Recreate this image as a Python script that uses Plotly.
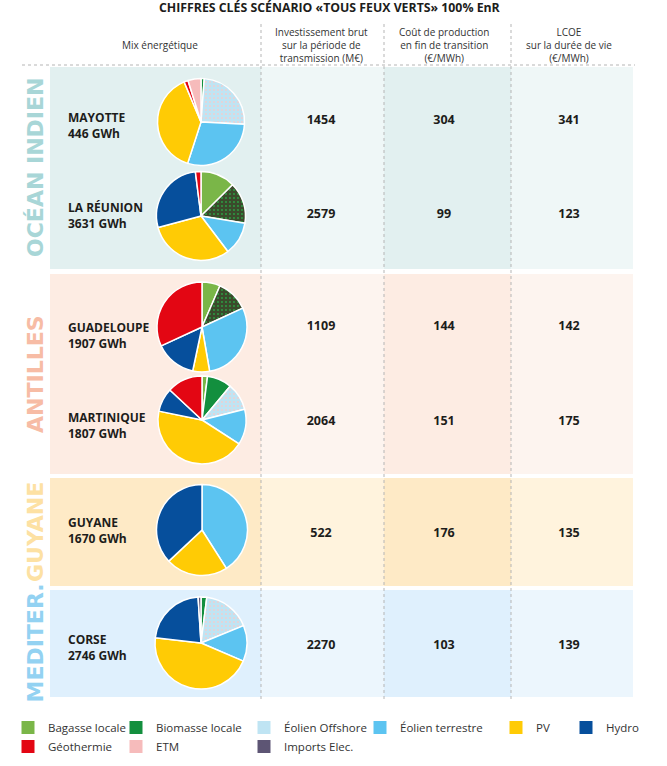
import plotly.graph_objects as go

# ---------------- DATA ----------------
title = "CHIFFRES CLÉS SCÉNARIO «TOUS FEUX VERTS» 100% EnR"
col_headers = ["Mix énergétique",
               "Investissement brut<br>sur la période de<br>transmission (M€)",
               "Coût de production<br>en fin de transition<br>(€/MWh)",
               "LCOE<br>sur la durée de vie<br>(€/MWh)"]

categories = ["Bagasse locale", "Biomasse locale", "Biomasse (motif)", "Éolien Offshore",
              "Éolien terrestre", "PV", "Hydro", "Géothermie", "ETM", "Imports Elec."]

territories = ["MAYOTTE", "LA RÉUNION", "GUADELOUPE", "MARTINIQUE", "GUYANE", "CORSE"]
consumption = ["446 GWh", "3631 GWh", "1907 GWh", "1807 GWh", "1670 GWh", "2746 GWh"]
invest = [1454, 2579, 1109, 2064, 522, 2270]
cout_production = [304, 99, 144, 151, 176, 103]
lcoe = [341, 123, 142, 175, 135, 139]

# energy mix shares (%), in the order of `categories`
mix_mayotte    = [0,   1.2, 0,    24.5, 29,   38.5, 0,    1.5,  4.8, 0]
mix_reunion    = [12.5, 0,  15,   0,    12,   31,   27,   2,    0,   0]
mix_guadeloupe = [6.5, 0,   11.5, 0,    29,   6,    14.7, 31.7, 0,   0]
mix_martinique = [2,   9,   0,    10,   13,   44,   8.7,  13,   0,   0]
mix_guyane     = [0,   0,   0,    0,    41,   22,   37,   0,    0,   0]
mix_corse      = [0,   2,   0,    16.7, 12.5, 45,   22,   0,    0,   1]
mixes = [mix_mayotte, mix_reunion, mix_guadeloupe, mix_martinique, mix_guyane, mix_corse]

regions = ["OCÉAN INDIEN", "ANTILLES", "GUYANE", "MEDITER."]

legend_cols = [["Bagasse locale", "Géothermie"], ["Biomasse locale", "ETM"],
               ["Éolien Offshore", "Imports Elec."], ["Éolien terrestre"], ["PV"], ["Hydro"]]

# ---------------- STYLE / LAYOUT ----------------
W, H = 667, 766
FONT = "Open Sans"
TXT = "#1d1d1b"

cat_colors = {
    "Bagasse locale": "#7ab648",
    "Biomasse locale": "#138f3e",
    "Biomasse (motif)": "#3b4a2c",
    "Éolien Offshore": "#bfe4f3",
    "Éolien terrestre": "#5cc4f1",
    "PV": "#ffcb05",
    "Hydro": "#064f9c",
    "Géothermie": "#e30613",
    "ETM": "#f6bbbb",
    "Imports Elec.": "#5d5574",
}
pattern_shape = {"Biomasse (motif)": ".", "Éolien Offshore": "."}
pattern_fg = {"Biomasse (motif)": "#2aa043", "Éolien Offshore": "#efcfcf"}

region_colors = ["#a8d6d7", "#f7bca5", "#fde1a3", "#93d2f2"]
band_dark = ["#e2f0f0", "#fdece3", "#feeac6", "#dff0fd"]
band_light = ["#eff7f7", "#fdf4ef", "#fff3dd", "#ecf6fd"]
band_y = [(67, 269), (274, 474), (478, 586), (590, 697)]

col_edges = [50, 261, 384, 511, 633]
col_centers = [160, 321, 444, 569]
row_value_y = [121, 215, 327, 422, 534, 646]
row_label_y = [125, 215, 335, 425, 530, 647]
pie_center = [(201, 122), (201, 216), (202, 327), (202, 420), (202, 530), (201, 643)]
pie_r = [43.5, 44.5, 45, 44, 45.5, 46]


def px(x):
    return x / W


def py(y):
    return 1 - y / H


fig = go.Figure()
shapes = []
annotations = []

# band backgrounds
for bi, (y0, y1) in enumerate(band_y):
    for ci in range(4):
        shapes.append(dict(type="rect", xref="x", yref="y", x0=col_edges[ci], x1=col_edges[ci + 1],
                           y0=y0, y1=y1, line=dict(width=0), layer="below",
                           fillcolor=band_dark[bi] if ci in (0, 2) else band_light[bi]))

# dotted separators
for xv in col_edges[1:4]:
    shapes.append(dict(type="line", xref="x", yref="y", x0=xv, x1=xv, y0=24, y1=700,
                       line=dict(color="#b5b5b5", width=1, dash="dot"), layer="below"))
shapes.append(dict(type="line", xref="x", yref="y", x0=22, x1=635, y0=65, y1=65,
                   line=dict(color="#b5b5b5", width=1, dash="dot"), layer="below"))

# title & headers
annotations.append(dict(x=330, y=7, xref="x", yref="y", text=title, showarrow=False,
                        font=dict(family=FONT, size=12.3, color=TXT, weight="bold")))
for ci, h in enumerate(col_headers):
    annotations.append(dict(x=col_centers[ci], y=45, xref="x", yref="y", text=h,
                            showarrow=False, align="center",
                            font=dict(family=FONT, size=10, color="#333333")))

# region vertical labels
for ri, name in enumerate(regions):
    y0, y1 = band_y[ri]
    annotations.append(dict(x=35, y=(y0 + y1) / 2, xref="x", yref="y", text=name, textangle=-90,
                            showarrow=False,
                            font=dict(family="DejaVu Sans", size=22, color=region_colors[ri],
                                      weight="bold")))

# territory labels
for ti, t in enumerate(territories):
    annotations.append(dict(x=66, y=row_label_y[ti], xref="x", yref="y", xanchor="left",
                            text=f"{t}<br>{consumption[ti]}", showarrow=False, align="left",
                            font=dict(family=FONT, size=12, color=TXT, weight="bold")))

# numeric cells via scatter text
for ci, vals in enumerate([invest, cout_production, lcoe]):
    fig.add_trace(go.Scatter(x=[col_centers[ci + 1]] * len(vals), y=row_value_y, mode="text",
                             text=[str(v) for v in vals], textposition="middle center",
                             textfont=dict(family=FONT, size=12.5, color=TXT, weight="bold"),
                             hoverinfo="skip", showlegend=False))

# pies
for ti, mix in enumerate(mixes):
    labs = [c for c, v in zip(categories, mix) if v > 0]
    vals = [v for v in mix if v > 0]
    cx, cy = pie_center[ti]
    r = pie_r[ti]
    cols = [cat_colors[l] for l in labs]
    fig.add_trace(go.Pie(
        labels=labs, values=vals, sort=False, direction="clockwise", rotation=0,
        textinfo="none", hoverinfo="label+percent", showlegend=False,
        marker=dict(colors=cols,
                    line=dict(color="white", width=1.5),
                    pattern=dict(shape=[pattern_shape.get(l, "") for l in labs],
                                 fgcolor=[pattern_fg.get(l, c) for l, c in zip(labs, cols)],
                                 bgcolor=cols, fillmode="replace",
                                 size=4, solidity=0.18)),
        domain=dict(x=[px(cx - r), px(cx + r)], y=[py(cy + r), py(cy - r)]),
    ))

# legend: one legend per column
legend_swatch_left = [25, 133, 261, 377, 513, 583]
legend_top = 713
layout_legends = {}
for li, items in enumerate(legend_cols):
    key = "legend" if li == 0 else f"legend{li + 1}"
    for it in items:
        fig.add_trace(go.Scatter(x=[None], y=[None], mode="markers", name=it,
                                 marker=dict(symbol="square", size=13, color=cat_colors[it]),
                                 legend=key, showlegend=True, hoverinfo="skip"))
    left = legend_swatch_left[li] - 17
    layout_legends[key] = dict(x=px(left), y=py(legend_top), xanchor="left", yanchor="top",
                               orientation="v", bgcolor="rgba(0,0,0,0)",
                               font=dict(family=FONT, size=11.5, color="#333333"),
                               tracegroupgap=0, itemclick=False, itemdoubleclick=False)

fig.update_layout(
    width=W, height=H, margin=dict(l=0, r=0, t=0, b=0),
    paper_bgcolor="white", plot_bgcolor="white",
    xaxis=dict(range=[0, W], visible=False, fixedrange=True),
    yaxis=dict(range=[H, 0], visible=False, fixedrange=True),
    shapes=shapes, annotations=annotations,
    **layout_legends,
)

fig.write_html("out.html", config={"displayModeBar": False},
               post_script="document.body.style.margin='0px';")
